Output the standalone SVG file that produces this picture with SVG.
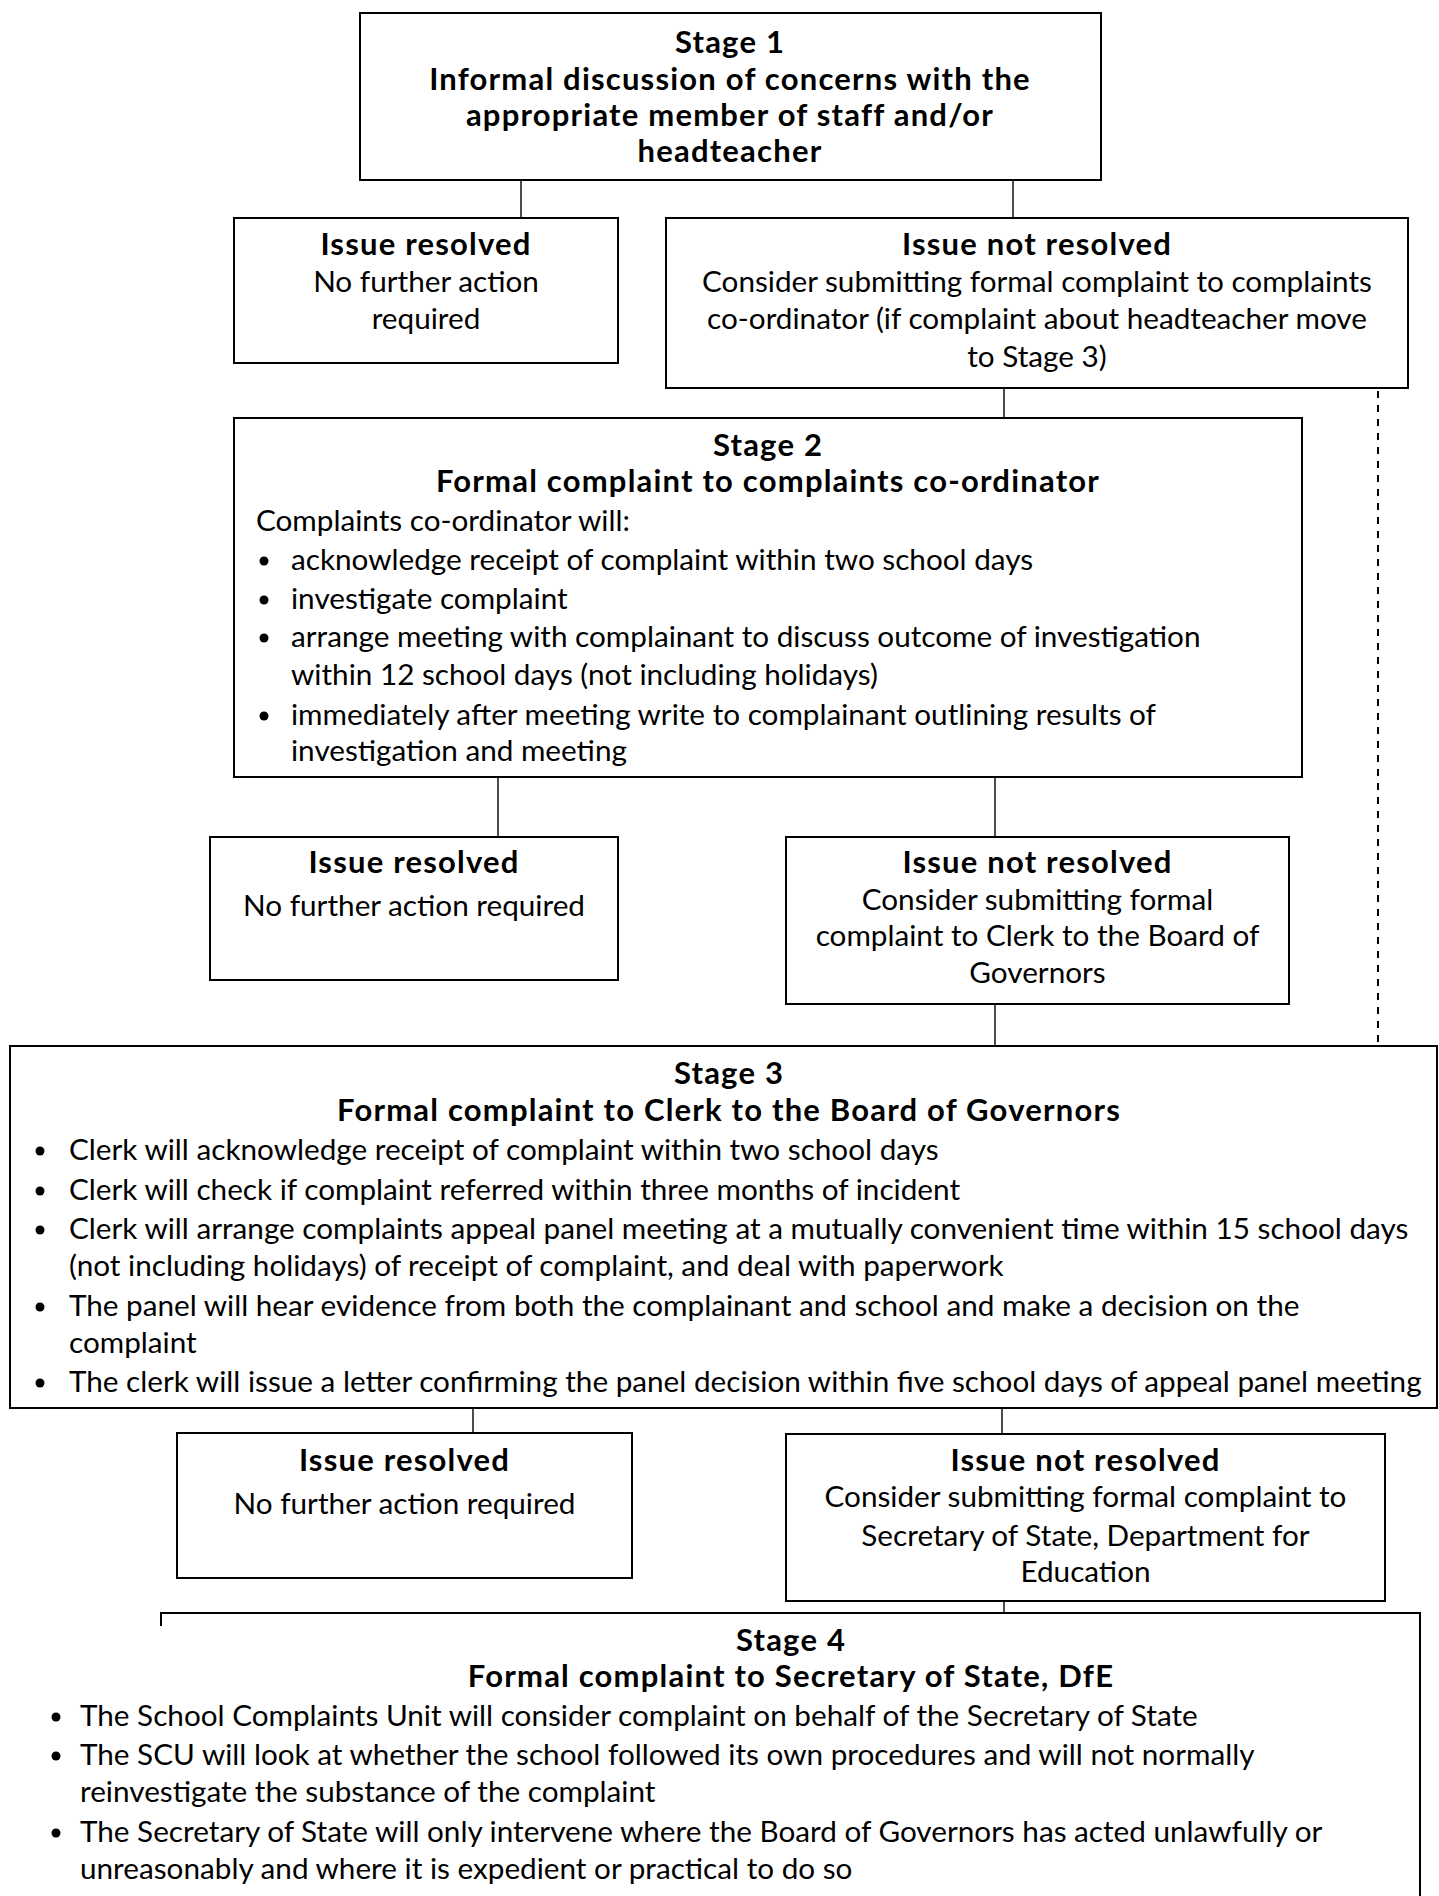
<svg xmlns="http://www.w3.org/2000/svg" width="1439" height="1896" viewBox="0 0 1439 1896">
<defs>
<style>
.box{fill:#fff;stroke:#000;stroke-width:2}
.ln{stroke:#000;stroke-width:1.4;fill:none}
.dash{stroke:#000;stroke-width:2;fill:none;stroke-dasharray:7 7}
text{font-family:Lato,"Open Sans","Liberation Sans",sans-serif;fill:#000}
.h{font-size:31px;font-weight:bold;text-anchor:middle;letter-spacing:1.2px}
.t{font-size:29.7px;text-anchor:middle}
.b{font-size:29.7px}
.dot{fill:#000}
</style>
</defs>
<rect width="1439" height="1896" fill="#fff"/>
<g id="connectors">
<line class="ln" x1="521" y1="180" x2="521" y2="218"/>
<line class="ln" x1="1013" y1="180" x2="1013" y2="218"/>
<line class="ln" x1="1004" y1="388" x2="1004" y2="418"/>
<line class="ln" x1="498" y1="777" x2="498" y2="837"/>
<line class="ln" x1="995" y1="777" x2="995" y2="837"/>
<line class="ln" x1="995" y1="1004" x2="995" y2="1046"/>
<line class="dash" x1="1378" y1="363" x2="1378" y2="1046"/>
<line class="ln" x1="473" y1="1408" x2="473" y2="1433"/>
<line class="ln" x1="1002" y1="1408" x2="1002" y2="1434"/>
<line class="ln" x1="1004" y1="1601" x2="1004" y2="1613"/>
</g>
<g id="stage1">
<rect class="box" x="360" y="13" width="741" height="167"/>
<text class="h" x="730" y="53">Stage 1</text>
<text class="h" x="730" y="90">Informal discussion of concerns with the</text>
<text class="h" x="730" y="126">appropriate member of staff and/or</text>
<text class="h" x="730" y="162">headteacher</text>
</g>
<g id="resolved1">
<rect class="box" x="234" y="218" width="384" height="145"/>
<text class="h" x="426" y="255">Issue resolved</text>
<text class="t" x="426" y="292">No further action</text>
<text class="t" x="426" y="329">required</text>
</g>
<g id="notresolved1">
<rect class="box" x="666" y="218" width="742" height="170"/>
<text class="h" x="1037" y="255">Issue not resolved</text>
<text class="t" x="1037" y="292">Consider submitting formal complaint to complaints</text>
<text class="t" x="1037" y="329">co-ordinator (if complaint about headteacher move</text>
<text class="t" x="1037" y="367">to Stage 3)</text>
</g>
<g id="stage2">
<rect class="box" x="234" y="418" width="1068" height="359"/>
<text class="h" x="768" y="456">Stage 2</text>
<text class="h" x="768" y="492">Formal complaint to complaints co-ordinator</text>
<text class="b" x="256" y="531">Complaints co-ordinator will:</text>
<circle class="dot" cx="264" cy="561" r="4.5"/>
<text class="b" x="291" y="570">acknowledge receipt of complaint within two school days</text>
<circle class="dot" cx="264" cy="600" r="4.5"/>
<text class="b" x="291" y="609">investigate complaint</text>
<circle class="dot" cx="264" cy="638" r="4.5"/>
<text class="b" x="291" y="647">arrange meeting with complainant to discuss outcome of investigation</text>
<text class="b" x="291" y="685">within 12 school days (not including holidays)</text>
<circle class="dot" cx="264" cy="716" r="4.5"/>
<text class="b" x="291" y="725">immediately after meeting write to complainant outlining results of</text>
<text class="b" x="291" y="761">investigation and meeting</text>
</g>
<g id="resolved2">
<rect class="box" x="210" y="837" width="408" height="143"/>
<text class="h" x="414" y="873">Issue resolved</text>
<text class="t" x="414" y="916">No further action required</text>
</g>
<g id="notresolved2">
<rect class="box" x="786" y="837" width="503" height="167"/>
<text class="h" x="1037.5" y="873">Issue not resolved</text>
<text class="t" x="1037.5" y="910">Consider submitting formal</text>
<text class="t" x="1037.5" y="946">complaint to Clerk to the Board of</text>
<text class="t" x="1037.5" y="983">Governors</text>
</g>
<g id="stage3">
<rect class="box" x="10" y="1046" width="1427" height="362"/>
<text class="h" x="729" y="1084">Stage 3</text>
<text class="h" x="729" y="1121">Formal complaint to Clerk to the Board of Governors</text>
<circle class="dot" cx="40" cy="1151" r="4.5"/>
<text class="b" x="69" y="1160">Clerk will acknowledge receipt of complaint within two school days</text>
<circle class="dot" cx="40" cy="1191" r="4.5"/>
<text class="b" x="69" y="1200">Clerk will check if complaint referred within three months of incident</text>
<circle class="dot" cx="40" cy="1230" r="4.5"/>
<text class="b" x="69" y="1239">Clerk will arrange complaints appeal panel meeting at a mutually convenient time within 15 school days</text>
<text class="b" x="69" y="1276">(not including holidays) of receipt of complaint, and deal with paperwork</text>
<circle class="dot" cx="40" cy="1307" r="4.5"/>
<text class="b" x="69" y="1316">The panel will hear evidence from both the complainant and school and make a decision on the</text>
<text class="b" x="69" y="1353">complaint</text>
<circle class="dot" cx="40" cy="1383" r="4.5"/>
<text class="b" x="69" y="1392">The clerk will issue a letter confirming the panel decision within five school days of appeal panel meeting</text>
</g>
<g id="resolved3">
<rect class="box" x="177" y="1433" width="455" height="145"/>
<text class="h" x="404.5" y="1471">Issue resolved</text>
<text class="t" x="404.5" y="1514">No further action required</text>
</g>
<g id="notresolved3">
<rect class="box" x="786" y="1434" width="599" height="167"/>
<text class="h" x="1085.5" y="1471">Issue not resolved</text>
<text class="t" x="1085.5" y="1507">Consider submitting formal complaint to</text>
<text class="t" x="1085.5" y="1546">Secretary of State, Department for</text>
<text class="t" x="1085.5" y="1582">Education</text>
</g>
<g id="stage4">
<path class="box" fill="none" d="M161,1626 V1613 H1420 V1900"/>
<text class="h" x="791" y="1651">Stage 4</text>
<text class="h" x="791" y="1687">Formal complaint to Secretary of State, DfE</text>
<circle class="dot" cx="56" cy="1717" r="4.5"/>
<text class="b" x="80" y="1726">The School Complaints Unit will consider complaint on behalf of the Secretary of State</text>
<circle class="dot" cx="56" cy="1756" r="4.5"/>
<text class="b" x="80" y="1765">The SCU will look at whether the school followed its own procedures and will not normally</text>
<text class="b" x="80" y="1802">reinvestigate the substance of the complaint</text>
<circle class="dot" cx="56" cy="1833" r="4.5"/>
<text class="b" x="80" y="1842">The Secretary of State will only intervene where the Board of Governors has acted unlawfully or</text>
<text class="b" x="80" y="1879">unreasonably and where it is expedient or practical to do so</text>
</g>
</svg>
